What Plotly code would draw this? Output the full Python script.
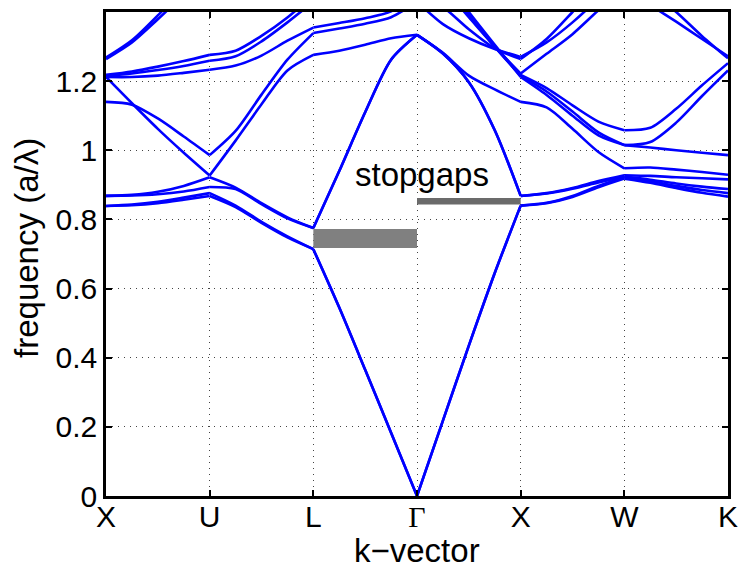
import plotly.graph_objects as go

# High-symmetry points along the Brillouin-zone path
k_labels = ["X", "U", "L", "<span style='font-family:Liberation Serif'>Γ</span>", "X", "W", "K"]
k_ticks = [0, 1, 2, 3, 4, 5, 6]

# Frequencies (a/λ) of each band, sampled at k = 0, 0.25, 0.5, ..., 6
band_01 = [0.839, 0.841, 0.847, 0.857, 0.868, 0.836, 0.790, 0.748, 0.714,
           0.545, 0.365, 0.183, 0.000, 0.218, 0.435, 0.645, 0.840,
           0.847, 0.865, 0.893, 0.918, 0.906, 0.891, 0.877, 0.866]
band_02 = [0.839, 0.843, 0.851, 0.863, 0.876, 0.840, 0.793, 0.751, 0.714,
           0.545, 0.365, 0.183, 0.000, 0.218, 0.435, 0.645, 0.840,
           0.848, 0.868, 0.897, 0.922, 0.911, 0.897, 0.885, 0.876]
band_03 = [0.868, 0.869, 0.873, 0.881, 0.894, 0.888, 0.844, 0.803, 0.775,
           0.940, 1.110, 1.262, 1.334, 1.280, 1.197, 1.058, 0.868,
           0.875, 0.889, 0.907, 0.924, 0.915, 0.904, 0.895, 0.888]
band_04 = [0.868, 0.871, 0.880, 0.897, 0.922, 0.892, 0.847, 0.806, 0.775,
           0.940, 1.110, 1.262, 1.334, 1.280, 1.197, 1.058, 0.868,
           0.876, 0.891, 0.911, 0.928, 0.926, 0.922, 0.919, 0.916]
band_05 = [1.140, 1.132, 1.092, 1.040, 0.986, 1.056, 1.161, 1.262, 1.339,
           1.352, 1.366, 1.385, 1.430, 1.365, 1.324, 1.293, 1.270,
           1.312, 1.370, 1.440, 1.520, 1.460, 1.400, 1.330, 1.266]
band_06 = [1.212, 1.136, 1.062, 0.993, 0.927, 1.028, 1.133, 1.231, 1.276,
           1.288, 1.305, 1.324, 1.334, 1.282, 1.216, 1.176, 1.140,
           1.124, 1.062, 0.995, 0.948, 0.950, 0.944, 0.937, 0.929]
band_07 = [1.212, 1.212, 1.216, 1.224, 1.233, 1.245, 1.274, 1.317, 1.355,
           1.368, 1.382, 1.402, 1.460, 1.415, 1.350, 1.295, 1.264,
           1.322, 1.400, 1.480, 1.560, 1.580, 1.590, 1.600, 1.600]
band_08 = [1.215, 1.222, 1.232, 1.244, 1.259, 1.272, 1.315, 1.370, 1.430,
           1.450, 1.480, 1.500, 1.520, 1.470, 1.385, 1.300, 1.222,
           1.279, 1.336, 1.405, 1.470, 1.420, 1.372, 1.322, 1.272]
band_09 = [1.218, 1.228, 1.242, 1.258, 1.276, 1.288, 1.331, 1.384, 1.450,
           1.480, 1.510, 1.540, 1.560, 1.480, 1.390, 1.300, 1.218,
           1.180, 1.130, 1.083, 1.058, 1.065, 1.120, 1.188, 1.252]
band_10 = [1.264, 1.312, 1.379, 1.450, 1.520, 1.550, 1.580, 1.600, 1.620,
           1.620, 1.620, 1.620, 1.620, 1.490, 1.395, 1.300, 1.215,
           1.170, 1.112, 1.052, 1.015, 1.024, 1.080, 1.157, 1.231]
band_11 = [1.268, 1.318, 1.390, 1.470, 1.550, 1.580, 1.610, 1.630, 1.650,
           1.650, 1.650, 1.650, 1.650, 1.500, 1.400, 1.305, 1.212,
           1.160, 1.100, 1.043, 1.015, 1.008, 1.000, 0.993, 0.986]

bands = [band_01, band_02, band_03, band_04, band_05, band_06,
         band_07, band_08, band_09, band_10, band_11]

# Stop gaps: k-interval and frequency limits
gap_k_start = [2, 3]
gap_k_end = [3, 4]
gap_low = [0.717, 0.843]
gap_high = [0.772, 0.862]
gap_colors = ["#808080", "#6b6b6b"]

steps = 4  # samples per segment between symmetry points
k_grid = [i / steps for i in range(len(band_01))]

fig = go.Figure()

# gray stop-gap bars
for ks, ke, lo, hi, col in zip(gap_k_start, gap_k_end, gap_low, gap_high, gap_colors):
    fig.add_trace(go.Scatter(
        x=[ks, ke, ke, ks, ks], y=[lo, lo, hi, hi, lo],
        mode="none", fill="toself", fillcolor=col,
        hoverinfo="skip", showlegend=False))

# bands: each segment between symmetry points is smoothed separately
n_seg = len(k_ticks) - 1
for band in bands:
    xs, ys = [], []
    for s in range(n_seg):
        idx = range(s * steps, s * steps + steps + 1)
        xs += [k_grid[i] for i in idx] + [None]
        ys += [band[i] for i in idx] + [None]
    fig.add_trace(go.Scatter(
        x=xs, y=ys, mode="lines", connectgaps=False,
        line=dict(color="#0000ff", width=2.6, shape="spline", smoothing=0.8),
        hoverinfo="skip", showlegend=False))

axis_common = dict(
    showgrid=True, gridcolor="#444444", gridwidth=1, griddash="1px,5px",
    ticks="inside", ticklen=6, tickwidth=2, tickcolor="black",
    showline=True, linecolor="black", linewidth=2.5, mirror="ticks",
    zeroline=False, tickfont=dict(size=30, color="black"),
)

fig.update_layout(
    width=747, height=570,
    margin=dict(l=106, r=14, t=9, b=74),
    paper_bgcolor="white", plot_bgcolor="white",
    font=dict(family="Liberation Sans", color="black"),
    xaxis=dict(range=[0, 6], tickvals=k_ticks, ticktext=k_labels,
               ticklabelstandoff=-8, **axis_common),
    yaxis=dict(range=[0, 1.4], tickvals=[0, 0.2, 0.4, 0.6, 0.8, 1.0, 1.2],
               ticktext=["0", "0.2", "0.4", "0.6", "0.8", "1", "1.2"], **axis_common),
    annotations=[
        dict(text="stopgaps", x=3.05, y=0.93, xref="x", yref="y",
             showarrow=False, font=dict(size=33, color="black"),
             xanchor="center", yanchor="middle"),
        dict(text="k\u2212vector", x=0.5, y=-0.113, xref="paper", yref="paper",
             showarrow=False, font=dict(size=33, color="black"),
             xanchor="center", yanchor="middle"),
        dict(text="frequency (a/λ)", x=-0.129, y=0.512, xref="paper", yref="paper",
             showarrow=False, textangle=-90, font=dict(size=33, color="black"),
             xanchor="center", yanchor="middle"),
    ],
)

fig.write_html("out.html")
